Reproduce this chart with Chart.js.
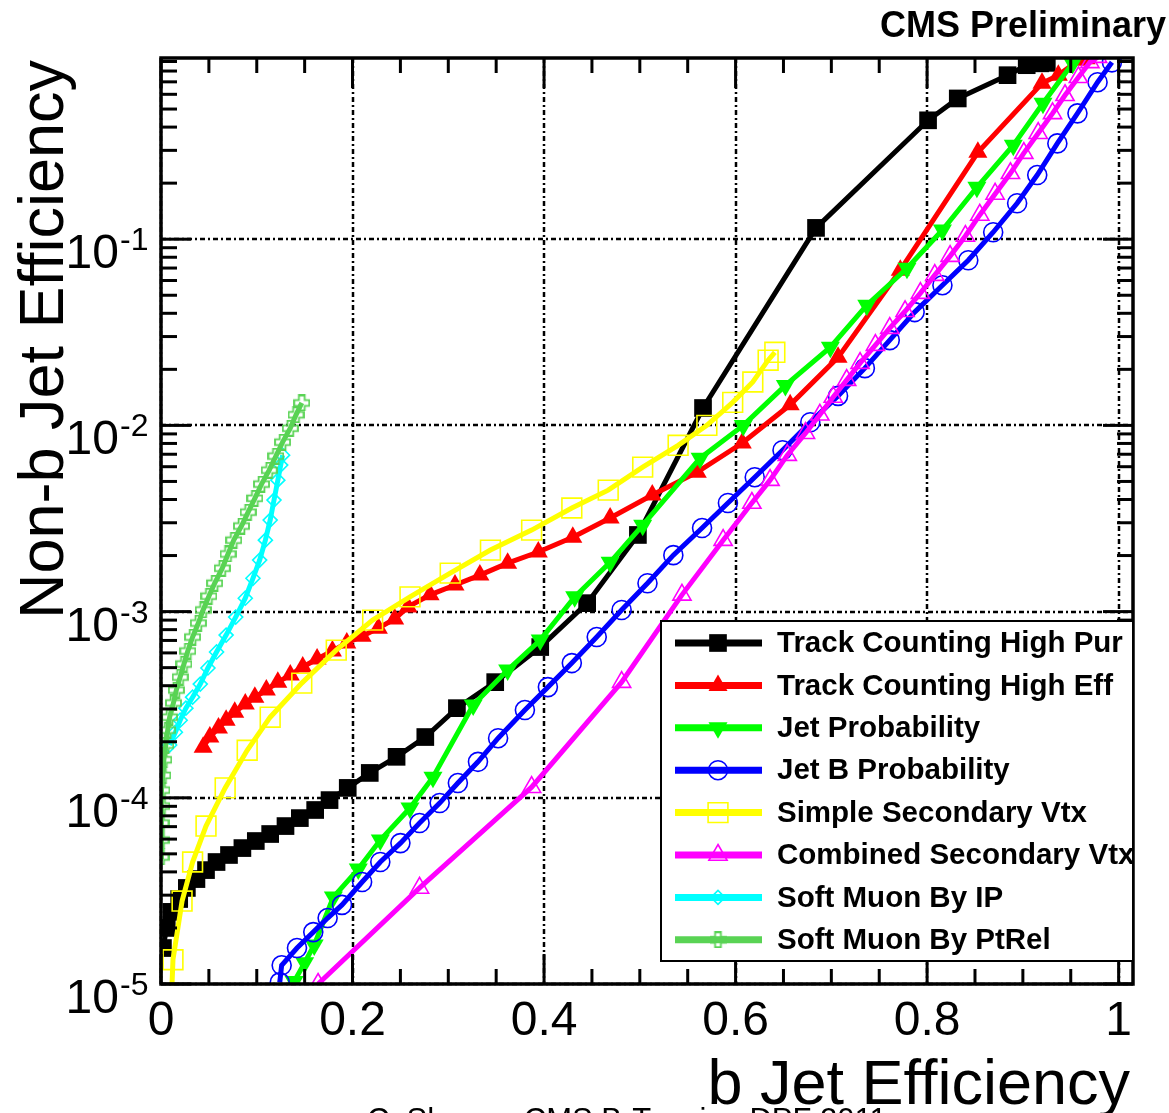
<!DOCTYPE html>
<html lang="en">
<head>
<meta charset="UTF-8">
<title>b-tag performance</title>
<script src="https://cdn.jsdelivr.net/npm/chart.js"></script>
<style>
    html, body { margin: 0; padding: 0; background: #fff; }
    #chart { display: block; }
</style>
</head>
<body>
<canvas id="chart" width="1169" height="1113"></canvas>
<script>
// ---- data (b jet efficiency, non-b jet efficiency) ----
const seriesNames = [
    'Track Counting High Pur', 'Track Counting High Eff', 'Jet Probability',
    'Jet B Probability', 'Simple Secondary Vtx', 'Combined Secondary Vtx',
    'Soft Muon By IP', 'Soft Muon By PtRel'
];

const tchpX = [0.002, 0.006, 0.011, 0.019, 0.027, 0.037, 0.047, 0.058, 0.071, 0.085, 0.099, 0.114, 0.130, 0.145,
    0.161, 0.176, 0.195, 0.218, 0.246, 0.276, 0.309, 0.349, 0.396, 0.445, 0.498, 0.566, 0.684, 0.801, 0.832,
    0.884, 0.904, 0.918, 0.925];
const tchpY = [1.56e-5, 2.0e-5, 2.44e-5, 2.86e-5, 3.28e-5, 3.66e-5, 4.09e-5, 4.52e-5, 4.93e-5, 5.37e-5, 5.86e-5,
    6.39e-5, 7.05e-5, 7.78e-5, 8.6e-5, 9.72e-5, 1.13e-4, 1.36e-4, 1.66e-4, 2.12e-4, 3.03e-4, 4.18e-4, 6.45e-4,
    1.11e-3, 2.58e-3, 1.24e-2, 0.115, 0.435, 0.57, 0.76, 0.86, 0.88, 0.885];

const tcheX = [0.044, 0.051, 0.060, 0.068, 0.077, 0.088, 0.098, 0.110, 0.122, 0.135, 0.148, 0.163, 0.179, 0.194,
    0.210, 0.227, 0.244, 0.258, 0.281, 0.307, 0.333, 0.362, 0.394, 0.430, 0.469, 0.513, 0.560, 0.607, 0.657,
    0.707, 0.772, 0.853, 0.920, 0.937, 0.958, 0.966];
const tcheY = [1.87e-4, 2.12e-4, 2.37e-4, 2.61e-4, 2.88e-4, 3.19e-4, 3.47e-4, 3.79e-4, 4.18e-4, 4.56e-4, 5.04e-4,
    5.56e-4, 6.14e-4, 6.78e-4, 7.38e-4, 8.15e-4, 9.12e-4, 1.06e-3, 1.23e-3, 1.39e-3, 1.57e-3, 1.82e-3, 2.09e-3,
    2.51e-3, 3.18e-3, 4.23e-3, 5.61e-3, 8.04e-3, 1.29e-2, 2.32e-2, 6.82e-2, 0.293, 0.688, 0.76, 0.914, 0.93];

const jpX = [0.139, 0.150, 0.160, 0.180, 0.206, 0.229, 0.260, 0.284, 0.326, 0.362, 0.396, 0.432, 0.469, 0.503,
    0.563, 0.608, 0.652, 0.699, 0.737, 0.779, 0.816, 0.852, 0.890, 0.921, 0.952];
const jpY = [1.03e-5, 1.30e-5, 1.62e-5, 2.93e-5, 4.14e-5, 5.93e-5, 8.81e-5, 1.29e-4, 3.15e-4, 4.85e-4, 7.03e-4,
    1.20e-3, 1.84e-3, 2.91e-3, 6.67e-3, 1.0e-2, 1.64e-2, 2.63e-2, 4.42e-2, 6.98e-2, 0.112, 0.190, 0.320, 0.537, 0.881];

const jbpX = [0.124, 0.126, 0.142, 0.159, 0.174, 0.189, 0.210, 0.229, 0.250, 0.270, 0.291, 0.310, 0.331, 0.352,
    0.380, 0.404, 0.429, 0.455, 0.481, 0.508, 0.535, 0.565, 0.592, 0.620, 0.649, 0.678, 0.707, 0.735, 0.761,
    0.787, 0.816, 0.843, 0.869, 0.894, 0.915, 0.936, 0.957, 0.978, 0.993];
const jbpY = [1.02e-5, 1.26e-5, 1.56e-5, 1.90e-5, 2.26e-5, 2.66e-5, 3.53e-5, 4.52e-5, 5.71e-5, 7.32e-5, 9.37e-5,
    1.20e-4, 1.56e-4, 2.09e-4, 2.96e-4, 3.93e-4, 5.29e-4, 7.30e-4, 1.02e-3, 1.42e-3, 2.01e-3, 2.81e-3, 3.83e-3,
    5.27e-3, 7.36e-3, 1.04e-2, 1.44e-2, 2.03e-2, 2.87e-2, 4.06e-2, 5.66e-2, 7.71e-2, 0.109, 0.156, 0.221, 0.327,
    0.474, 0.697, 0.891];

const ssvX = [0.011, 0.0125, 0.022, 0.033, 0.047, 0.067, 0.090, 0.114, 0.147, 0.183, 0.221, 0.260, 0.302, 0.344,
    0.387, 0.429, 0.467, 0.503, 0.540, 0.570, 0.597, 0.618, 0.634, 0.641];
const ssvY = [8.5e-6, 1.35e-5, 2.79e-5, 4.52e-5, 7.05e-5, 1.13e-4, 1.80e-4, 2.71e-4, 4.13e-4, 6.21e-4, 9.0e-4,
    1.20e-3, 1.61e-3, 2.14e-3, 2.74e-3, 3.60e-3, 4.49e-3, 5.97e-3, 7.82e-3, 1.0e-2, 1.33e-2, 1.71e-2, 2.24e-2, 2.47e-2];

const csvX = [0.164, 0.270, 0.387, 0.481, 0.544, 0.587, 0.617, 0.636, 0.654, 0.673, 0.688, 0.702, 0.716, 0.730,
    0.746, 0.761, 0.777, 0.793, 0.808, 0.824, 0.840, 0.855, 0.871, 0.887, 0.901, 0.916, 0.931, 0.944, 0.958,
    0.970, 0.978];
const csvY = [1.0e-5, 3.28e-5, 1.14e-4, 4.18e-4, 1.23e-3, 2.42e-3, 3.83e-3, 5.08e-3, 6.92e-3, 9.08e-3, 1.14e-2,
    1.42e-2, 1.75e-2, 2.16e-2, 2.70e-2, 3.33e-2, 4.10e-2, 5.13e-2, 6.41e-2, 8.11e-2, 0.104, 0.135, 0.175, 0.226,
    0.290, 0.371, 0.474, 0.593, 0.741, 0.891, 0.95];

const smipX = [0.009, 0.015, 0.020, 0.026, 0.033, 0.041, 0.049, 0.058, 0.068, 0.078, 0.088, 0.096, 0.103, 0.109,
    0.114, 0.118, 0.122, 0.125, 0.127];
const smipY = [1.92e-4, 2.25e-4, 2.61e-4, 3.03e-4, 3.47e-4, 4.08e-4, 4.98e-4, 6.07e-4, 7.48e-4, 9.34e-4, 1.18e-3,
    1.51e-3, 1.89e-3, 2.42e-3, 3.10e-3, 3.97e-3, 5.08e-3, 6.12e-3, 6.92e-3];

const smptX = [0.000, 0.000, 0.000, 0.001, 0.001, 0.002, 0.003, 0.005, 0.007, 0.009, 0.013, 0.016, 0.020, 0.024,
    0.028, 0.033, 0.039, 0.044, 0.050, 0.056, 0.064, 0.070, 0.076, 0.084, 0.091, 0.098, 0.105, 0.113, 0.120,
    0.127, 0.135, 0.141, 0.147];
const smptY = [4.81e-5, 5.93e-5, 7.32e-5, 9.03e-5, 1.10e-4, 1.32e-4, 1.60e-4, 1.92e-4, 2.31e-4, 2.71e-4, 3.23e-4,
    3.79e-4, 4.45e-4, 5.23e-4, 6.14e-4, 7.30e-4, 8.68e-4, 1.02e-3, 1.21e-3, 1.42e-3, 1.71e-3, 2.04e-3, 2.42e-3,
    2.88e-3, 3.42e-3, 4.06e-3, 4.84e-3, 5.75e-3, 6.84e-3, 8.13e-3, 9.66e-3, 1.14e-2, 1.32e-2];

// axes
const xMin = 0, xMax = 1.015;
const yMin = 1e-5, yMax = 0.94;
const xTicks = [0, 0.2, 0.4, 0.6, 0.8, 1];
const xTickLabels = ['0', '0.2', '0.4', '0.6', '0.8', '1'];
const yTicks = [1e-5, 1e-4, 1e-3, 1e-2, 1e-1];
const yTickExps = ['-5', '-4', '-3', '-2', '-1'];

const colors = ['#000000', '#ff0000', '#00ff00', '#0000ff', '#ffff00', '#ff00ff', '#00ffff', '#59d354'];

// open cross marker (ROOT style) as a small canvas
function openCross(color, size) {
    const c = document.createElement('canvas');
    c.width = size; c.height = size;
    const g = c.getContext('2d');
    const a = size / 2, t = size * 0.17, m = 1;
    g.strokeStyle = color;
    g.lineWidth = 1.8;
    g.beginPath();
    g.moveTo(a - t, m); g.lineTo(a + t, m); g.lineTo(a + t, a - t); g.lineTo(size - m, a - t);
    g.lineTo(size - m, a + t); g.lineTo(a + t, a + t); g.lineTo(a + t, size - m); g.lineTo(a - t, size - m);
    g.lineTo(a - t, a + t); g.lineTo(m, a + t); g.lineTo(m, a - t); g.lineTo(a - t, a - t);
    g.closePath();
    g.stroke();
    return c;
}

const markers = [
    { style: 'rect', r: 12.5, bw: 0, fill: true },
    { style: 'triangle', r: 11, bw: 0, fill: true },
    { style: 'triangle', r: 11, bw: 0, fill: true, rot: 180 },
    { style: 'circle', r: 9.5, bw: 1.6, fill: false },
    { style: 'rect', r: 14, bw: 1.6, fill: false },
    { style: 'triangle', r: 10.5, bw: 1.6, fill: false },
    { style: 'rectRot', r: 7, bw: 1.6, fill: false },
    { style: openCross(colors[7], 17), r: 8, bw: 1.6, fill: false }
];

const seriesX = [tchpX, tcheX, jpX, jbpX, ssvX, csvX, smipX, smptX];
const seriesY = [tchpY, tcheY, jpY, jbpY, ssvY, csvY, smipY, smptY];

const datasets = seriesNames.map((name, i) => ({
    label: name,
    data: seriesX[i].map((x, k) => ({ x: x, y: seriesY[i][k] })),
    showLine: true,
    tension: 0,
    borderColor: colors[i],
    borderWidth: 5,
    pointStyle: markers[i].style,
    pointRadius: markers[i].r,
    pointBorderWidth: markers[i].bw,
    pointRotation: markers[i].rot || 0,
    pointBorderColor: colors[i],
    pointBackgroundColor: markers[i].fill ? colors[i] : 'rgba(0,0,0,0)',
    order: seriesNames.length - i
}));

const FONT = '"Liberation Sans", Arial, Helvetica, sans-serif';

// grid drawn under the curves
const gridPlugin = {
    id: 'rootGrid',
    beforeDatasetsDraw(chart) {
        const { ctx, chartArea: a, scales: { x, y } } = chart;
        ctx.save();
        ctx.strokeStyle = '#000';
        ctx.lineWidth = 2.5;
        ctx.setLineDash([5, 3, 2, 3]);
        xTicks.forEach(v => {
            const px = Math.round(x.getPixelForValue(v));
            ctx.beginPath(); ctx.moveTo(px, a.top); ctx.lineTo(px, a.bottom); ctx.stroke();
        });
        yTicks.forEach(v => {
            const py = Math.round(y.getPixelForValue(v));
            ctx.beginPath(); ctx.moveTo(a.left, py); ctx.lineTo(a.right, py); ctx.stroke();
        });
        ctx.restore();
    }
};

// frame, ticks, labels, titles and legend
const framePlugin = {
    id: 'rootFrame',
    afterDraw(chart) {
        const { ctx, chartArea: a, scales: { x, y } } = chart;
        ctx.save();
        ctx.strokeStyle = '#000';
        ctx.lineWidth = 3;
        ctx.setLineDash([]);

        const tick = (x1, y1, x2, y2) => { ctx.beginPath(); ctx.moveTo(x1, y1); ctx.lineTo(x2, y2); ctx.stroke(); };
        // x ticks
        for (let k = 0; k <= 20; k++) {
            const v = k * 0.05;
            const px = x.getPixelForValue(v);
            const len = (k % 4 === 0) ? 30 : 15;
            tick(px, a.bottom, px, a.bottom - len);
            tick(px, a.top, px, a.top + len);
        }
        // y ticks
        for (let e = -5; e <= -1; e++) {
            for (let m = 1; m <= 9; m++) {
                const v = m * Math.pow(10, e);
                if (v > yMax) continue;
                const py = y.getPixelForValue(v);
                const len = (m === 1) ? 30 : 16;
                tick(a.left, py, a.left + len, py);
                tick(a.right, py, a.right - len, py);
            }
        }
        // frame
        ctx.lineWidth = 3.5;
        ctx.strokeRect(a.left, a.top, a.right - a.left, a.bottom - a.top);

        // tick labels
        ctx.fillStyle = '#000';
        ctx.font = '48px ' + FONT;
        ctx.textAlign = 'center';
        ctx.textBaseline = 'alphabetic';
        xTicks.forEach((v, i) => ctx.fillText(xTickLabels[i], x.getPixelForValue(v), a.bottom + 51));
        yTicks.forEach((v, i) => {
            const py = y.getPixelForValue(v);
            ctx.font = '48px ' + FONT;
            ctx.textAlign = 'right';
            ctx.fillText('10', a.left - 42, py + 29);
            ctx.font = '32px ' + FONT;
            ctx.textAlign = 'left';
            ctx.fillText(yTickExps[i], a.left - 41, py + 11);
        });

        // axis titles
        ctx.font = '63px ' + FONT;
        ctx.textAlign = 'right';
        ctx.fillText('b Jet Efficiency', a.right - 3, 1104);
        ctx.save();
        ctx.translate(63, a.top + 2);
        ctx.rotate(-Math.PI / 2);
        ctx.fillText('Non-b Jet Efficiency', 0, 0);
        ctx.restore();

        ctx.font = 'bold 36px ' + FONT;
        ctx.textAlign = 'right';
        ctx.fillText('CMS Preliminary', 1166, 37);

        ctx.font = '31px ' + FONT;
        ctx.textAlign = 'left';
        ctx.fillText('C. Sharma CMS B-Tagging DPF 2011', 367, 1130);

        // legend box
        const lx = 661, ly = 621, lw = a.right - 661, lh = 340;
        ctx.fillStyle = '#fff';
        ctx.fillRect(lx, ly, lw, lh);
        ctx.lineWidth = 2;
        ctx.strokeRect(lx, ly, lw, lh);
        ctx.font = 'bold 29.5px ' + FONT;
        ctx.textBaseline = 'middle';
        seriesNames.forEach((name, i) => {
            const ey = 643 + i * 42.4;
            ctx.strokeStyle = colors[i];
            ctx.lineWidth = 7;
            tick(675, ey, 762, ey);
            ctx.fillStyle = markers[i].fill ? colors[i] : 'rgba(0,0,0,0)';
            ctx.lineWidth = markers[i].bw;
            Chart.helpers.drawPoint(ctx, {
                pointStyle: markers[i].style, radius: markers[i].r,
                rotation: markers[i].rot || 0, borderWidth: markers[i].bw
            }, 718, ey);
            ctx.fillStyle = '#000';
            ctx.fillText(name, 777, ey + 1);
        });
        ctx.restore();
    }
};

new Chart(document.getElementById('chart'), {
    type: 'scatter',
    data: { datasets: datasets },
    options: {
        responsive: false,
        animation: false,
        layout: { padding: { left: 161, right: 36, top: 58, bottom: 129 } },
        plugins: { legend: { display: false }, tooltip: { enabled: false } },
        scales: {
            x: { type: 'linear', min: xMin, max: xMax, display: false },
            y: { type: 'logarithmic', min: yMin, max: yMax, display: false }
        }
    },
    plugins: [gridPlugin, framePlugin]
});
</script>
</body>
</html>
